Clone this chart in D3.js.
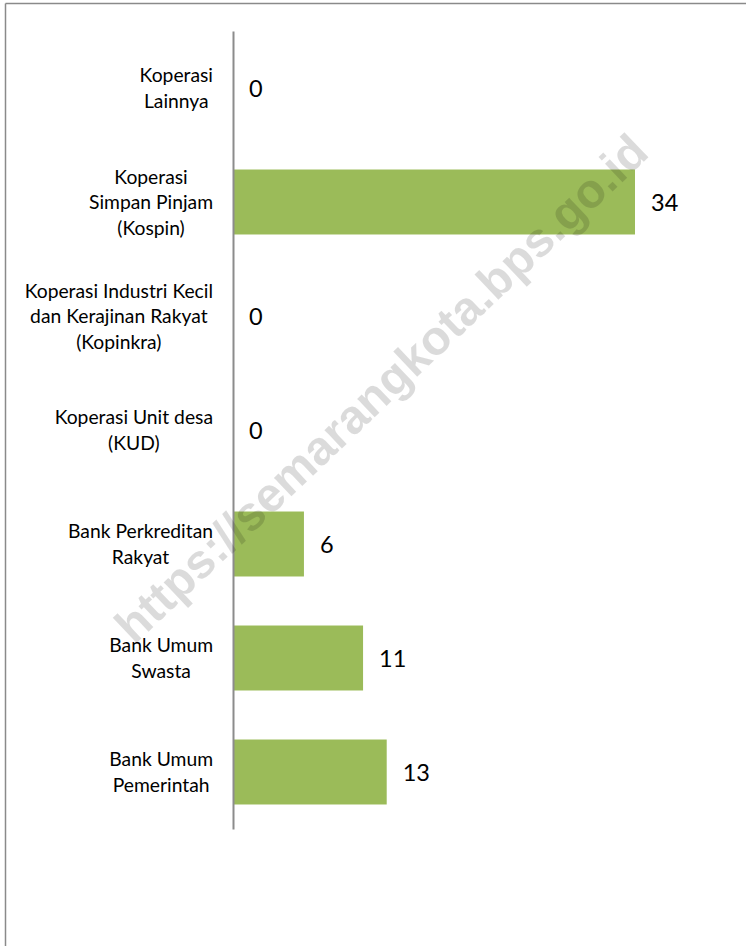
<!DOCTYPE html>
<html>
<head>
<meta charset="utf-8">
<script src="https://cdn.jsdelivr.net/npm/d3@7"></script>
<style>
  html, body { margin: 0; padding: 0; background: #fff; }
  svg { display: block; }
</style>
</head>
<body>
<svg id="chart" width="746" height="946"></svg>
<script>
// ---- data ----
const categories = [
  ["Koperasi", "Lainnya"],
  ["Koperasi", "Simpan Pinjam", "(Kospin)"],
  ["Koperasi Industri Kecil", "dan Kerajinan Rakyat", "(Kopinkra)"],
  ["Koperasi Unit desa", "(KUD)"],
  ["Bank Perkreditan", "Rakyat"],
  ["Bank Umum", "Swasta"],
  ["Bank Umum", "Pemerintah"]
];
const values = [0, 34, 0, 0, 6, 11, 13];
const watermark = "https://semarangkota.bps.go.id";

// ---- layout ----
const W = 746, H = 946;
const axisX = 233, plotTop = 31, plotBottom = 829;
const labelFont = "Lato, 'Liberation Sans', sans-serif";

const svg = d3.select("#chart");

// frame (top and left edges visible)
svg.append("line").attr("x1", 5.5).attr("x2", W).attr("y1", 3.5).attr("y2", 3.5)
  .attr("stroke", "#8a8a8a").attr("stroke-width", 1.5);
svg.append("line").attr("x1", 5.5).attr("x2", 5.5).attr("y1", 3.5).attr("y2", H)
  .attr("stroke", "#8a8a8a").attr("stroke-width", 1.5);

const idx = d3.range(categories.length);
const y = d3.scaleBand().domain(idx).range([plotTop, plotBottom])
  .paddingInner(0.43).paddingOuter(0.215);
const x = d3.scaleLinear().domain([0, 34]).range([axisX, 635]);

// bars
svg.append("g").selectAll("rect").data(idx).join("rect")
  .attr("x", x(0))
  .attr("y", i => y(i))
  .attr("width", i => x(values[i]) - x(0))
  .attr("height", y.bandwidth())
  .attr("fill", "#9BBB59");

// axis line (category axis, no ticks)
const yAxis = d3.axisLeft(d3.scaleLinear().domain([0, 1]).range([plotTop, plotBottom]))
  .tickValues([]).tickSizeOuter(0);
const ag = svg.append("g").attr("transform", `translate(${axisX},0)`).call(yAxis);
ag.select(".domain").attr("stroke", "#8c8c8c").attr("stroke-width", 2);

// category labels
const lh = 25.5;
const labelRight = 213;
const lg = svg.append("g");
idx.forEach(i => {
  const lines = categories[i];
  const c = y(i) + y.bandwidth() / 2;
  const t = lg.append("text")
    .attr("font-family", labelFont)
    .attr("font-size", 19.3)
    .attr("fill", "#000");
  const tspans = lines.map((ln, k) => t.append("tspan")
    .attr("y", c + (k - (lines.length - 1) / 2) * lh + 7)
    .text(ln));
  // block right-aligned at labelRight, lines centered within block
  const widths = tspans.map(s => s.node().getComputedTextLength());
  const maxW = d3.max(widths);
  const cx = labelRight - maxW / 2;
  tspans.forEach(s => s.attr("x", cx).attr("text-anchor", "middle"));
});

// value labels
svg.append("g").selectAll("text").data(idx).join("text")
  .attr("x", i => x(values[i]) + 16)
  .attr("y", i => y(i) + y.bandwidth() / 2 + 8.5)
  .attr("font-family", labelFont)
  .attr("font-size", 23.5)
  .attr("fill", "#000")
  .text(i => values[i]);

// watermark
svg.append("text")
  .attr("transform", "translate(381,388) rotate(-43.5)")
  .attr("text-anchor", "middle")
  .attr("dy", "0.35em")
  .attr("font-family", "'Liberation Sans', Arial, sans-serif")
  .attr("font-weight", "bold")
  .attr("font-size", 48)
  .attr("fill", "#000")
  .attr("fill-opacity", 0.14)
  .text(watermark);
</script>
</body>
</html>
